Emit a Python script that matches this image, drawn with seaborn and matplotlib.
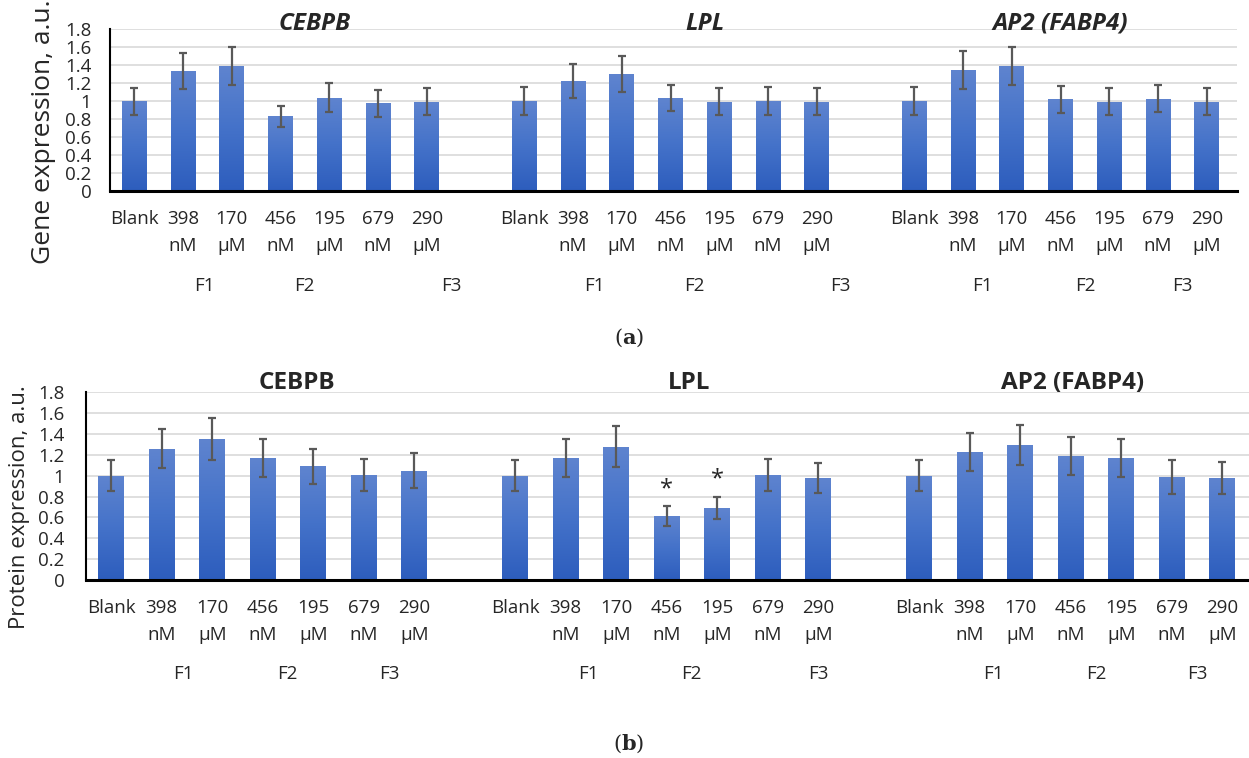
import numpy as np
import pandas as pd
import matplotlib
matplotlib.use("Agg")
import matplotlib.pyplot as plt
from matplotlib.colors import LinearSegmentedColormap
import seaborn as sns

# ---------------- data ----------------
conditions = ["Blank", "398\nnM", "170\nμM", "456\nnM", "195\nμM", "679\nnM", "290\nμM"]
genes = ["CEBPB", "LPL", "AP2 (FABP4)"]
formulations = ["F1", "F2", "F3"]

# (a) gene expression
gene_cebpb = [1.00, 1.34, 1.39, 0.83, 1.04, 0.975, 0.995]
gene_cebpb_err = [0.15, 0.20, 0.21, 0.115, 0.16, 0.15, 0.15]
gene_lpl = [1.00, 1.225, 1.30, 1.035, 0.995, 1.00, 0.995]
gene_lpl_err = [0.155, 0.185, 0.20, 0.15, 0.15, 0.155, 0.15]
gene_ap2 = [1.00, 1.35, 1.39, 1.02, 0.995, 1.027, 0.995]
gene_ap2_err = [0.155, 0.21, 0.21, 0.15, 0.15, 0.15, 0.15]

# (b) protein expression
prot_cebpb = [1.00, 1.26, 1.35, 1.17, 1.09, 1.01, 1.05]
prot_cebpb_err = [0.15, 0.19, 0.20, 0.18, 0.165, 0.155, 0.165]
prot_lpl = [1.00, 1.17, 1.28, 0.61, 0.69, 1.01, 0.978]
prot_lpl_err = [0.15, 0.185, 0.20, 0.095, 0.105, 0.155, 0.147]
prot_ap2 = [1.00, 1.227, 1.294, 1.19, 1.17, 0.988, 0.981]
prot_ap2_err = [0.15, 0.185, 0.195, 0.185, 0.185, 0.16, 0.153]

# significance marks (gene index, condition index) in panel (b)
signif_b = [(1, 3), (1, 4)]

# x offsets (within a group, in category units) of the F1/F2/F3 labels
f_offsets_a = [[1.44, 3.49, 6.5], [1.44, 3.49, 6.48], [1.4, 3.5, 5.5]]
f_offsets_b = [[1.43, 3.49, 5.5], [1.45, 3.49, 6.0], [1.47, 3.5, 5.5]]
# title offsets within a group
title_offsets_a = [3.7, 3.7, 3.0]
title_offsets_b = [3.67, 3.45, 3.04]

yticks = [0, 0.2, 0.4, 0.6, 0.8, 1, 1.2, 1.4, 1.6, 1.8]
ytick_labels = ["0", "0.2", "0.4", "0.6", "0.8", "1", "1.2", "1.4", "1.6", "1.8"]

GROUP_STRIDE = len(conditions) + 1


def make_df(vals, errs):
    rows = []
    for g, (v, e) in enumerate(zip(vals, errs)):
        for i, cond in enumerate(conditions):
            rows.append(dict(gene=genes[g], cond=cond, pos=g * GROUP_STRIDE + i,
                             value=v[i], err=e[i]))
    return pd.DataFrame(rows)


df_a = make_df([gene_cebpb, gene_lpl, gene_ap2],
               [gene_cebpb_err, gene_lpl_err, gene_ap2_err])
df_b = make_df([prot_cebpb, prot_lpl, prot_ap2],
               [prot_cebpb_err, prot_lpl_err, prot_ap2_err])

# ---------------- style ----------------
sns.set_theme(style="white")
plt.rcParams["font.family"] = ["Open Sans", "DejaVu Sans"]

W, H = 1249, 758
fig = plt.figure(figsize=(W / 100, H / 100), dpi=100)

cmap = LinearSegmentedColormap.from_list("bar", ["#2d5dbd", "#4472c9", "#5f84cf"])
grad = np.linspace(0, 1, 256).reshape(-1, 1)


def draw_panel(rect, df, xlim, italic, ylabel, ylabel_xy, ylabel_size,
               title_offsets, f_offsets, ytick_pad, f_y, title_y, signif=None):
    ax = fig.add_axes(rect)
    sns.barplot(data=df, x="pos", y="value", native_scale=True, width=0.51,
                color="#4472c4", errorbar=None, ax=ax, linewidth=0)
    # gradient fill clipped to each bar
    for p in list(ax.patches):
        x0, y0 = p.get_x(), p.get_y()
        w, h = p.get_width(), p.get_height()
        im = ax.imshow(grad, extent=[x0, x0 + w, y0, y0 + h], origin="lower",
                       cmap=cmap, aspect="auto", zorder=2)
        im.set_clip_path(p)
        p.set_facecolor("none")
    ax.errorbar(df["pos"], df["value"], yerr=df["err"], fmt="none",
                ecolor="#595959", elinewidth=1.6, capsize=3, capthick=1.6,
                zorder=4)
    ax.set_yticks(yticks)
    ax.set_yticklabels(ytick_labels, fontsize=13.5)
    ax.set_xticks(df["pos"])
    ax.set_xticklabels(df["cond"], fontsize=13.5, linespacing=1.6)
    ax.tick_params(axis="x", length=0, pad=14)
    ax.tick_params(axis="y", length=0, pad=ytick_pad)
    ax.set_xlabel("")
    ax.set_ylabel("")
    ax.grid(axis="y", color="#d9d9d9", linewidth=1.2, zorder=0)
    ax.set_axisbelow(True)
    for s in ["top", "right"]:
        ax.spines[s].set_visible(False)
    ax.spines["left"].set_color("black")
    ax.spines["left"].set_linewidth(1.5)
    ax.spines["bottom"].set_color("black")
    ax.spines["bottom"].set_linewidth(2.2)
    ax.spines["bottom"].set_zorder(5)
    ax.set_xlim(*xlim)
    ax.set_ylim(0, 1.8)

    trans = matplotlib.transforms.blended_transform_factory(ax.transData, ax.transAxes)
    for g, gene in enumerate(genes):
        base = g * GROUP_STRIDE
        ax.text(base + title_offsets[g], title_y, gene, transform=trans,
                ha="center", va="baseline", fontsize=17.5, fontweight="bold",
                fontstyle="italic" if italic else "normal", clip_on=False)
        for k, f in enumerate(formulations):
            ax.text(base + f_offsets[g][k], f_y, f, transform=trans,
                    ha="center", va="center", fontsize=13.5, clip_on=False)
    if signif:
        for g, i in signif:
            row = df[(df["gene"] == genes[g]) & (df["cond"] == conditions[i])].iloc[0]
            ax.annotate("*", (row["pos"], row["value"] + row["err"]),
                        xytext=(0, 4), textcoords="offset points",
                        ha="center", va="bottom", fontsize=17)
    fig.text(ylabel_xy[0], ylabel_xy[1], ylabel, rotation=90, ha="center",
             va="center", fontsize=ylabel_size)
    return ax


# panel (a)
draw_panel([110 / W, 1 - 190.7 / H, 1127 / W, 161.2 / H], df_a,
           (-0.5, 22.62), True, "Gene expression, a.u.",
           (44 / W, 1 - 132 / H), 19, title_offsets_a, f_offsets_a,
           ytick_pad=13.5, f_y=-0.59, title_y=0.997)

# panel (b)
draw_panel([86 / W, 1 - 580 / H, 1163 / W, 187.7 / H], df_b,
           (-0.5, 22.53), False, "Protein expression, a.u.",
           (20 / W, 1 - 507.5 / H), 16, title_offsets_b, f_offsets_b,
           ytick_pad=15.5, f_y=-0.5, title_y=1.0176, signif=signif_b)

# panel captions
fig.text(629 / W, 1 - 338 / H, r"($\mathbf{a}$)", fontsize=15,
         family="DejaVu Serif", math_fontfamily="dejavuserif",
         ha="center", va="center")
fig.text(629 / W, 1 - 744 / H, r"($\mathbf{b}$)", fontsize=15,
         family="DejaVu Serif", math_fontfamily="dejavuserif",
         ha="center", va="center")

fig.savefig("out.png", dpi=100)
